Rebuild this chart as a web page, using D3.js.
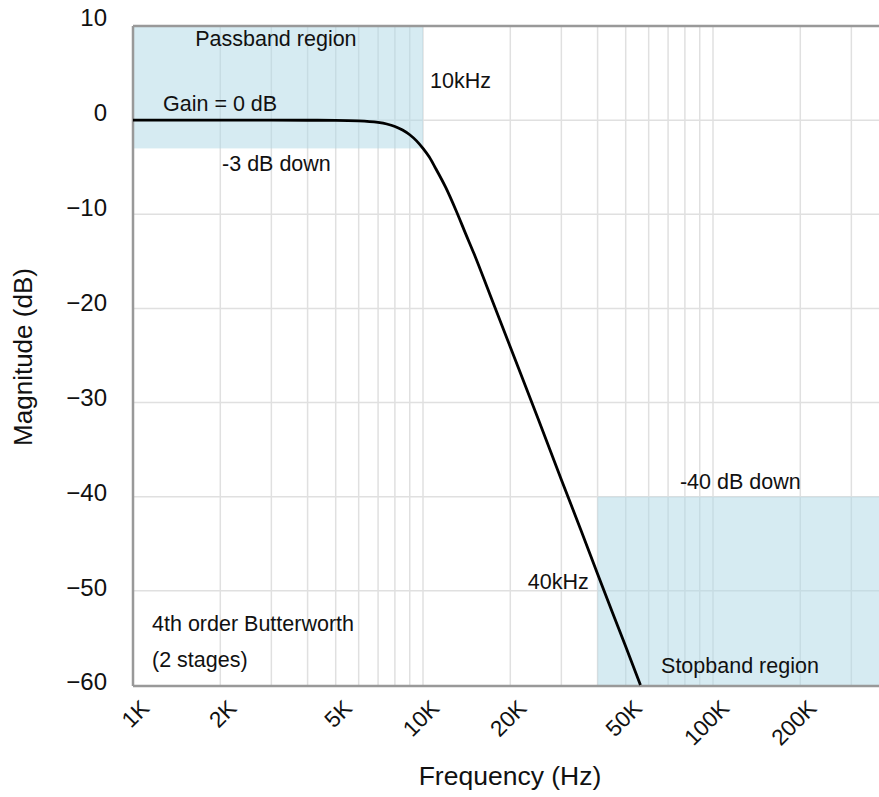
<!DOCTYPE html>
<html>
<head>
<meta charset="utf-8">
<script src="https://cdn.jsdelivr.net/npm/d3@7"></script>
<style>
  html, body { margin: 0; padding: 0; background: #fff; }
  svg { display: block; font-family: "Liberation Sans", Arial, Helvetica, sans-serif; }
</style>
</head>
<body>
<svg id="chart" width="879" height="797"></svg>
<script>
// ---- data ----
const freqs      = [1000, 2000, 3000, 4000, 5000, 6000, 7000, 7500, 8000, 8500, 9000, 9500, 10000, 10500, 11000, 12000, 13000, 14000, 15000, 17000, 20000, 25000, 30000, 35000, 40000, 45000, 50000, 56200];
const magnitudes = [0, 0, 0, -0.01, -0.02, -0.07, -0.24, -0.41, -0.67, -1.05, -1.55, -2.2, -3.0, -3.9, -5.0, -7.2, -9.6, -12.0, -14.2, -18.5, -24.1, -31.8, -38.2, -43.5, -48.2, -52.3, -55.9, -60];

const xTickValues = [1000, 2000, 5000, 10000, 20000, 50000, 100000, 200000];
const xTickLabels = ["1K", "2K", "5K", "10K", "20K", "50K", "100K", "200K"];
const yTickValues = [10, 0, -10, -20, -30, -40, -50, -60];

const passbandFreq = [1000, 10000];
const passbandMag  = [10, -3];
const stopbandFreq = [40000, 400000];
const stopbandMag  = [-40, -60];

const annotationTexts = ["Passband region", "Gain = 0 dB", "-3 dB down", "10kHz", "40kHz", "-40 dB down", "Stopband region", "4th order Butterworth", "(2 stages)"];
const annotationFreq  = [3110, 1269, 2028, 10570, 37300, 76900, 66200, 1163, 1163];
const annotationMag   = [7.9, 1.0, -5.4, 3.4, -49.8, -39.2, -58.7, -54.3, -58.1];
const annotationAnchor = ["middle", "start", "start", "start", "end", "start", "start", "start", "start"];

// ---- layout ----
const svg = d3.select("#chart");
const mLeft = 133, mTop = 26, mBottom = 685;
const decade = 290;

const x = d3.scaleLog().domain([1000, 400000]).range([mLeft, mLeft + decade * Math.log10(400)]);
const y = d3.scaleLinear().domain([10, -60]).range([mTop, mBottom]);
const yLabel = d3.scaleLinear().domain([10, -60]).range([18, 682]);

const plotRight = 879;

// grid
const gridG = svg.append("g");
const vGrid = x.ticks().filter(d => x(d) > mLeft + 1 && x(d) < plotRight);
gridG.selectAll("line.v").data(vGrid).join("line")
  .attr("x1", d => x(d)).attr("x2", d => x(d))
  .attr("y1", mTop).attr("y2", mBottom)
  .attr("stroke", "#e0e0e0").attr("stroke-width", 1.5);
gridG.selectAll("line.h").data(yTickValues.filter(v => v < 10 && v > -60)).join("line")
  .attr("x1", mLeft).attr("x2", plotRight)
  .attr("y1", d => y(d)).attr("y2", d => y(d))
  .attr("stroke", "#e0e0e0").attr("stroke-width", 1.5);

// shaded regions
const regions = [
  {f: passbandFreq, m: passbandMag},
  {f: stopbandFreq, m: stopbandMag}
];
svg.append("g").selectAll("rect").data(regions).join("rect")
  .attr("x", d => x(d.f[0]))
  .attr("y", d => y(d.m[0]))
  .attr("width", d => x(d.f[1]) - x(d.f[0]))
  .attr("height", d => y(d.m[1]) - y(d.m[0]))
  .attr("fill", "lightblue").attr("fill-opacity", 0.5);

// frame (left, top, bottom)
const frame = svg.append("g").attr("stroke", "#999").attr("stroke-width", 2.5).attr("fill", "none");
frame.append("line").attr("x1", mLeft).attr("x2", mLeft).attr("y1", mTop).attr("y2", mBottom + 1);
frame.append("line").attr("x1", mLeft).attr("x2", plotRight).attr("y1", mTop).attr("y2", mTop);
frame.append("line").attr("x1", mLeft).attr("x2", plotRight).attr("y1", mBottom + 1).attr("y2", mBottom + 1);

// curve
const pts = freqs.map((f, i) => [f, magnitudes[i]]);
const line = d3.line().x(d => x(d[0])).y(d => y(d[1])).curve(d3.curveMonotoneX);
svg.append("path").datum(pts)
  .attr("d", line)
  .attr("fill", "none").attr("stroke", "#000").attr("stroke-width", 2.8);

// y tick labels
svg.append("g").selectAll("text").data(yTickValues).join("text")
  .attr("x", 107).attr("y", d => yLabel(d))
  .attr("dy", "0.35em")
  .attr("text-anchor", "end")
  .attr("font-size", 24).attr("fill", "#111")
  .text(d => d3.format("")(d).replace("-", "\u2212"));

// x tick labels
svg.append("g").selectAll("text").data(xTickValues).join("text")
  .attr("transform", d => `translate(${x(d) + 12},${704}) rotate(-45)`)
  .attr("dy", "0.35em")
  .attr("text-anchor", "end")
  .attr("font-size", 22.5).attr("fill", "#111")
  .text((d, i) => xTickLabels[i]);

// axis titles
svg.append("text")
  .attr("x", 510).attr("y", 785)
  .attr("text-anchor", "middle")
  .attr("font-size", 26.5).attr("fill", "#111")
  .text("Frequency (Hz)");
svg.append("text")
  .attr("transform", "translate(32,357) rotate(-90)")
  .attr("text-anchor", "middle")
  .attr("font-size", 26).attr("fill", "#111")
  .text("Magnitude (dB)");

// annotations
svg.append("g").selectAll("text").data(annotationTexts).join("text")
  .attr("x", (d, i) => x(annotationFreq[i]))
  .attr("y", (d, i) => y(annotationMag[i]))
  .attr("text-anchor", (d, i) => annotationAnchor[i])
  .attr("font-size", 21.5).attr("fill", "#111")
  .text(d => d);
</script>
</body>
</html>
